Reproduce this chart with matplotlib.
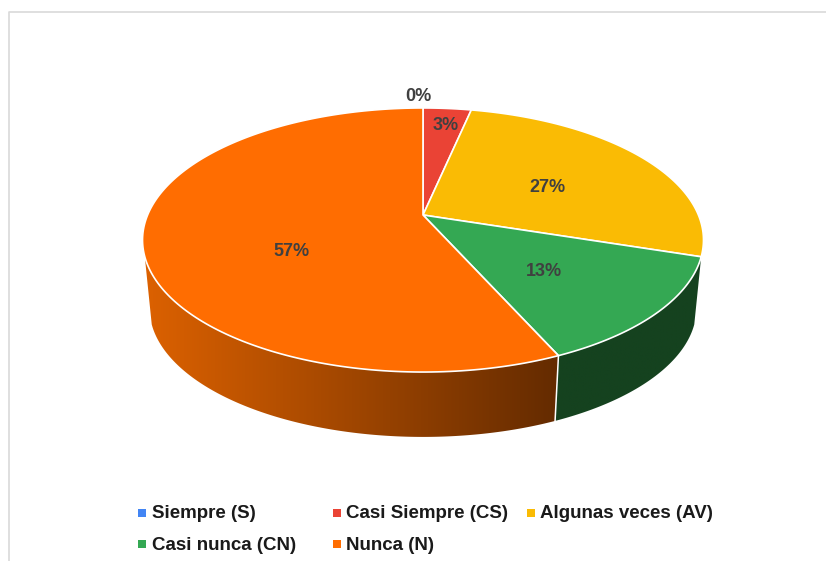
import numpy as np
import matplotlib
matplotlib.use('Agg')
import matplotlib.pyplot as plt
from matplotlib.patches import Polygon
from matplotlib.colors import LinearSegmentedColormap

plt.rcParams['font.family'] = ['Liberation Sans', 'DejaVu Sans']

categories = ['Siempre (S)', 'Casi Siempre (CS)', 'Algunas veces (AV)', 'Casi nunca (CN)', 'Nunca (N)']
counts = [0, 1, 8, 4, 17]
colors = ['#4285F4', '#EA4335', '#FABB04', '#34A853', '#FF6D01']
side_left = ['#2a5599', '#99261d', '#a37a02', '#15421F', '#DC6100']
side_right = ['#2a5599', '#99261d', '#a37a02', '#15421F', '#642B00']

# perspective of the pie disc, in picture pixels
CX, CY = 423, 215
A, B, K = 127.3, 275.4, 0.1894
BOTTOM_CY, BOTTOM_SCALE = 283.8, 0.975
SIDE_FROM, SIDE_TO = 108, 252


def top_xy(deg, r=1.0):
    t = np.radians(deg)
    d = 1 + K * r * np.cos(t)
    return CX + B * r * np.sin(t) / d, CY - A * r * np.cos(t) / d


def bottom_xy(deg):
    t = np.radians(deg)
    d = 1 + K * np.cos(t)
    return (CX + BOTTOM_SCALE * B * np.sin(t) / d,
            BOTTOM_CY - BOTTOM_SCALE * A * np.cos(t) / d)


fig = plt.figure(figsize=(8.26, 5.61), dpi=100)
ax = fig.add_axes([0, 0, 1, 1])
ax.set_xlim(0, 826)
ax.set_ylim(561, 0)
ax.axis('off')

# chart frame, only top and left show up in the crop
ax.plot([9, 9, 826], [561, 12, 12], color='#D9D9D9', lw=1.2)

total = sum(counts)
edges = np.cumsum([0] + counts) / total * 360

# side wall first, gradient image clipped to each slice wall
for i in range(len(counts)):
    lo = max(edges[i], SIDE_FROM)
    hi = min(edges[i + 1], SIDE_TO)
    if hi <= lo:
        continue
    th = np.linspace(lo, hi, 200)
    xt, yt = top_xy(th)
    xb, yb = bottom_xy(th[::-1])
    wall = Polygon(list(zip(xt, yt)) + list(zip(xb, yb)), closed=True, transform=ax.transData,
                   facecolor='none', edgecolor='none')
    ax.add_patch(wall)
    x0 = min(xt.min(), xb.min())
    x1 = max(xt.max(), xb.max())
    cmap = LinearSegmentedColormap.from_list('wall', [side_left[i], side_right[i]])
    im = ax.imshow(np.linspace(0, 1, 256).reshape(1, -1), cmap=cmap, extent=(x0, x1, 440, 250),
                   aspect='auto', zorder=2, interpolation='bilinear')
    im.set_clip_path(wall)
ax.set_xlim(0, 826)
ax.set_ylim(561, 0)

# white line where wall slices meet
for e in edges:
    if SIDE_FROM < e < SIDE_TO:
        xa, ya = top_xy(e)
        xb, yb = bottom_xy(e)
        ax.plot([xa, xb], [ya, yb], color='white', lw=1.1, zorder=3)

# top of the pie
for i in range(len(counts)):
    if counts[i] == 0:
        continue
    th = np.linspace(edges[i], edges[i + 1], 200)
    x, y = top_xy(th)
    pts = [(CX, CY)] + list(zip(x, y))
    ax.add_patch(Polygon(pts, closed=True, facecolor=colors[i], edgecolor='white',
                         lw=1.2, joinstyle='round', zorder=4))

# data labels
label_xy = [(418, 96), (446, 125), (547, 187), (544, 271), (291, 251)]
for i in range(len(counts)):
    ax.text(label_xy[i][0], label_xy[i][1], f'{counts[i] / total * 100:.0f}%', color='#404040',
            fontsize=13, fontweight='bold', ha='center', va='center', zorder=5)

# legend
legend_x = [142, 337, 531, 142, 337]
legend_y = [513, 513, 513, 544, 544]
for i in range(len(categories)):
    ax.plot(legend_x[i], legend_y[i], marker='s', ms=5.4, color=colors[i], mew=0, ls='none')
    ax.text(legend_x[i] + 9.5, legend_y[i] + 1, categories[i], color='#1a1a1a', fontsize=13.5,
            fontweight='bold', ha='left', va='center')

fig.savefig('out.png', dpi=100)
